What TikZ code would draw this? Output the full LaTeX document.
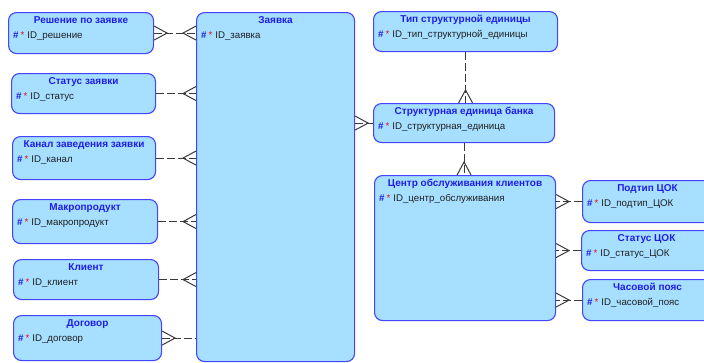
\documentclass[tikz,border=0pt]{standalone}
\usepackage{fontspec}
\setmainfont{Liberation Sans}
\usetikzlibrary{arrows.meta}
\definecolor{entfill}{HTML}{A6DFFF}
\definecolor{entline}{HTML}{4444FF}
\definecolor{ttl}{HTML}{1E1EE6}
\definecolor{star}{HTML}{E01010}
\definecolor{attrtxt}{HTML}{202020}
\definecolor{rel}{HTML}{3A3A3A}

% crow's foot: three prongs, the middle one is the line itself
\pgfdeclarearrow{
  name = Crow,
  parameters = {\the\pgfarrowlength,\the\pgfarrowwidth},
  setup code = {
    \pgfarrowssettipend{0pt}
    \pgfarrowssetlineend{0pt}
    \pgfarrowssetbackend{-\pgfarrowlength}
    \pgfarrowssetvisualbackend{-\pgfarrowlength}
    \pgfarrowsupperhullpoint{0pt}{.5\pgfarrowwidth}
    \pgfarrowsupperhullpoint{-\pgfarrowlength}{0pt}
  },
  drawing code = {
    \pgfsetdash{}{0pt}
    \pgfpathmoveto{\pgfpoint{0pt}{.5\pgfarrowwidth}}
    \pgfpathlineto{\pgfpoint{-\pgfarrowlength}{0pt}}
    \pgfpathlineto{\pgfpoint{0pt}{-.5\pgfarrowwidth}}
    \pgfusepathqstroke
  },
  defaults = {length=13pt, width=14pt}
}

\tikzset{
  ent/.style={rectangle, rounded corners=8pt, draw=entline, fill=entfill,
    line width=1.1pt, anchor=north west, inner sep=0pt},
  ttl/.style={anchor=north, font=\bfseries\fontsize{10}{12}\selectfont, text=ttl,
    inner sep=1.5pt, yshift=-2.5pt},
  attr/.style={anchor=west, font=\fontsize{9.7}{11}\selectfont, text=attrtxt, inner sep=0pt},
  rel/.style={draw=rel, line width=1pt, dash pattern=on 8pt off 3pt},
}
% #1 name, #2/#3 top left corner, #4 width, #5 height, #6 title, #7 key
\newcommand{\entity}[7]{
  \node[ent, minimum width=#4pt, minimum height=#5pt] (#1) at (#2,#3) {};
  \node[ttl] at (#1.north) {#6};
  \node[attr] at ([shift={(5,24)}]#1.north west)
    {{\color{ttl}\textbf{\#}}\kern2pt{\color{star}*}\kern3pt ID\_#7};
}

\begin{document}
\begin{tikzpicture}[x=1pt, y=-1pt]
  \clip (0,0) rectangle (704,362);

  % entities around the request
  \entity{resh}{8}{12}{145}{41}{Решение по заявке}{решение}
  \entity{statz}{11}{73}{144}{40}{Статус заявки}{статус}
  \entity{kanal}{12}{136}{143}{43}{Канал заведения заявки}{канал}
  \entity{makro}{12}{199}{145}{44}{Макропродукт}{макропродукт}
  \entity{klient}{13}{259}{145}{40}{Клиент}{клиент}
  \entity{dogov}{13}{315}{148}{45}{Договор}{договор}
  \entity{zayav}{196}{12}{158}{349}{Заявка}{заявка}

  % bank structure
  \entity{tip}{373}{11}{184}{40}{Тип структурной единицы}{тип\_структурной\_единицы}
  \entity{struk}{373}{103}{181}{39}{Структурная единица банка}{структурная\_единица}
  \entity{centr}{374}{175}{181}{145}{Центр обслуживания клиентов}{центр\_обслуживания}
  \entity{podtip}{582}{180}{130}{42}{Подтип ЦОК}{подтип\_ЦОК}
  \entity{statc}{581}{230}{130}{40}{Статус ЦОК}{статус\_ЦОК}
  \entity{chas}{582}{279}{130}{41}{Часовой пояс}{часовой\_пояс}

  % relations
  \draw[rel, Crow-Crow] (resh.east) -- (zayav.west |- resh.east);
  \foreach \e in {statz, kanal, makro, klient}
    \draw[rel, -Crow] (\e.east) -- (zayav.west |- \e.east);
  \draw[rel, Crow-] (dogov.east) -- (zayav.west |- dogov.east);
  \draw[rel, Crow-] (zayav.east |- struk.west) -- (struk.west);
  \draw[rel, -Crow] (tip.south) -- (struk.north -| tip.south);
  \draw[rel, -Crow] (struk.south) -- (centr.north -| struk.south);
  \foreach \e in {podtip, statc, chas}
    \draw[rel, -Crow] (\e.west) -- (centr.east |- \e.west);
\end{tikzpicture}
\end{document}
